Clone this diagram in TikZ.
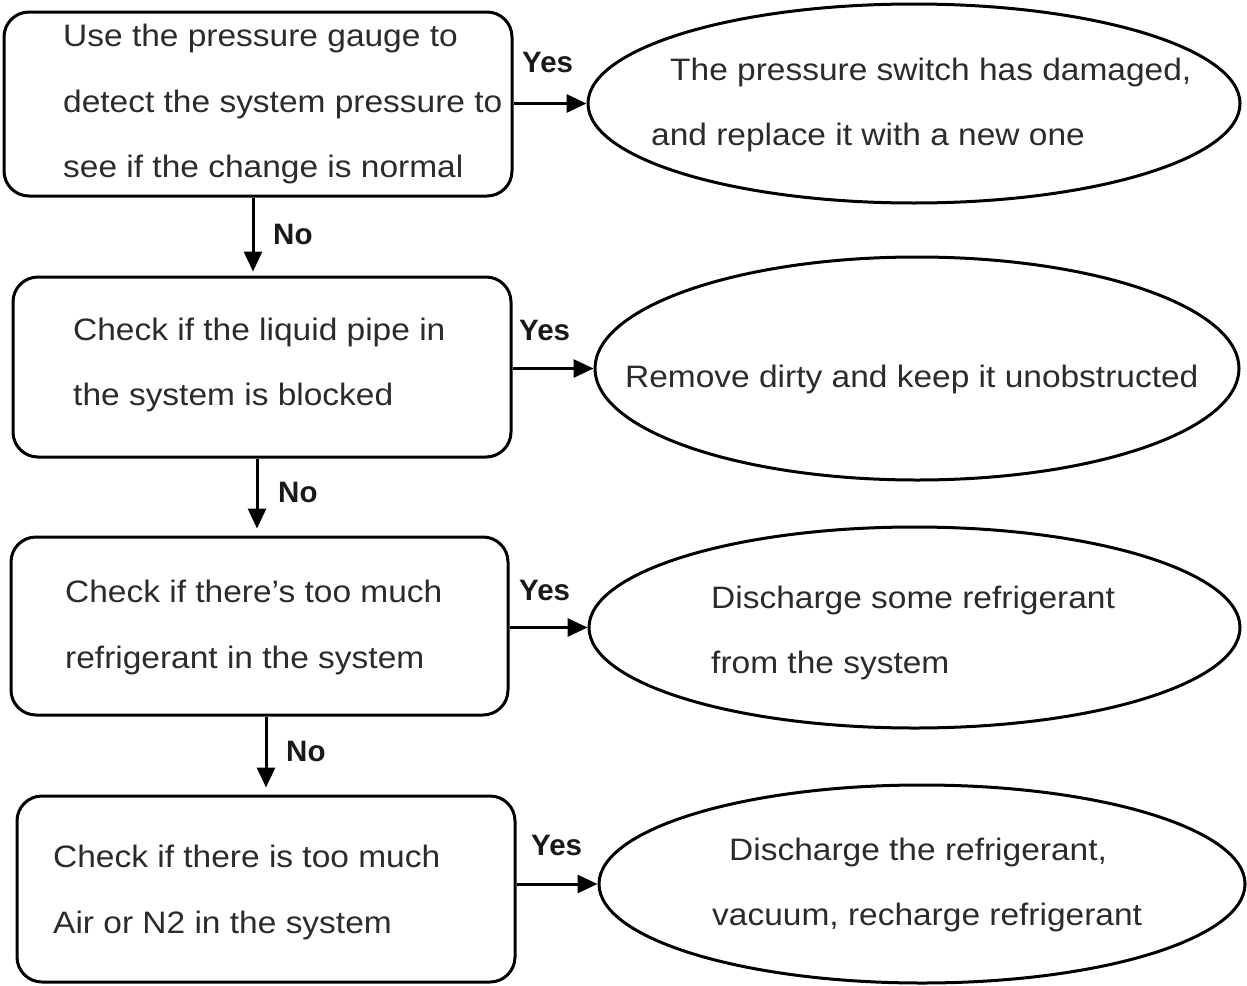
\documentclass[tikz,border=0pt]{standalone}
\usepackage{fontspec}
\setmainfont{Liberation Sans}[FakeStretch=1.08]
\newfontfamily\lblfont{Liberation Sans}
\usetikzlibrary{arrows.meta,shapes.geometric}
\definecolor{txt}{HTML}{2B2B2B}
\tikzset{
  stepbox/.style={draw, line width=3pt, rounded corners=25pt, inner sep=0pt},
  endoval/.style={draw, ellipse, line width=3pt, inner sep=0pt},
  body/.style={anchor=base west, inner sep=0pt, text=txt, font=\fontsize{31}{31}\selectfont},
  lbl/.style={anchor=base west, inner sep=0pt, text=black!90, font=\lblfont\bfseries\fontsize{29.5}{29.5}\selectfont},
  arr/.style={line width=3pt, -{Triangle[length=20pt,width=18pt]}}
}
\begin{document}
\begin{tikzpicture}[x=1pt,y=-1pt]
\useasboundingbox (0,0) rectangle (1247,985);
% boxes
\node[stepbox, minimum width=508pt, minimum height=184pt] (b1) at (258,104) {};
\node[stepbox, minimum width=498pt, minimum height=180pt] (b2) at (262,367) {};
\node[stepbox, minimum width=497pt, minimum height=178pt] (b3) at (259.5,626) {};
\node[stepbox, minimum width=498pt, minimum height=186pt] (b4) at (266,889) {};
% ellipses
\node[endoval, minimum width=652pt, minimum height=199pt] (e1) at (914,103.5) {};
\node[endoval, minimum width=644pt, minimum height=223pt] (e2) at (917,368.5) {};
\node[endoval, minimum width=651pt, minimum height=201pt] (e3) at (914.5,627.5) {};
\node[endoval, minimum width=646pt, minimum height=198pt] (e4) at (922,884) {};
% box texts
\node[body] (t1a) at (63,46) {Use the pressure gauge to};
\node[body] (t1b) at (63,112) {detect the system pressure to};
\node[body] (t1c) at (63,177) {see if the change is normal};
\node[body] (t2a) at (73,340) {Check if the liquid pipe in};
\node[body] (t2b) at (73,405) {the system is blocked};
\node[body] (t3a) at (65,602) {Check if there’s too much};
\node[body] (t3b) at (65,668) {refrigerant in the system};
\node[body] (t4a) at (53,867) {Check if there is too much};
\node[body] (t4b) at (53,933) {Air or N2 in the system};
% ellipse texts
\node[body] (r1a) at (670,80) {The pressure switch has damaged,};
\node[body] (r1b) at (651,145) {and replace it with a new one};
\node[body] (r2a) at (625,387) {Remove dirty and keep it unobstructed};
\node[body] (r3a) at (711,608) {Discharge some refrigerant};
\node[body] (r3b) at (711,673) {from the system};
\node[body] (r4a) at (729,860) {Discharge the refrigerant,};
\node[body] (r4b) at (712,925) {vacuum, recharge refrigerant};
% connectors
\draw[arr] (b1.east |- e1.west) -- (e1.west);
\draw[arr] (b2.east |- e2.west) -- (e2.west);
\draw[arr] (b3.east |- e3.west) -- (e3.west);
\draw[arr] (b4.east |- e4.west) -- (e4.west);
\draw[arr, shorten >=4pt] ([xshift=-5pt]b1.south) -- ([xshift=-9pt]b2.north);
\draw[arr, shorten >=7pt] ([xshift=-5pt]b2.south) -- ([xshift=-2.5pt]b3.north);
\draw[arr, shorten >=7pt] ([xshift=6.5pt]b3.south) -- (b4.north);
% labels
\node[lbl] (y1) at (522,72) {Yes};
\node[lbl] (y2) at (519,340) {Yes};
\node[lbl] (y3) at (519,600) {Yes};
\node[lbl] (y4) at (531,855) {Yes};
\node[lbl] (n1) at (273,244) {No};
\node[lbl] (n2) at (278,502) {No};
\node[lbl] (n3) at (286,761) {No};
\end{tikzpicture}
\end{document}
